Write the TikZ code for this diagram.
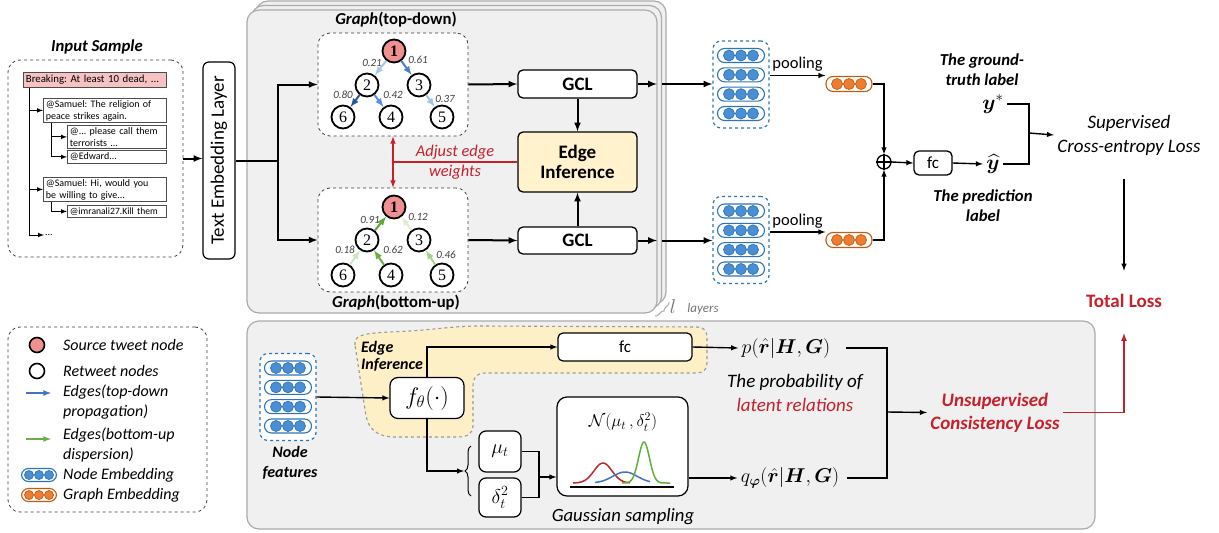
\RequirePackage{fix-cm}
\documentclass[tikz,border=0pt]{standalone}
\usepackage{amsmath}
\usepackage{bm}
\usepackage{fontspec}
\setmainfont{Carlito}
\newfontfamily\numfont{Liberation Serif}
\usepackage{xcolor}
\usetikzlibrary{calc,decorations.pathreplacing}
\definecolor{framegray}{HTML}{F0F0F0}
\definecolor{framedraw}{HTML}{ABABAB}
\definecolor{srcpink}{HTML}{F09090}
\definecolor{boxpink}{HTML}{F6C2C2}
\definecolor{embblue}{HTML}{4A8FD3}
\definecolor{embdraw}{HTML}{2E75B6}
\definecolor{graphorange}{HTML}{ED7D31}
\definecolor{orangedraw}{HTML}{C55A11}
\definecolor{lossred}{HTML}{C5202C}
\definecolor{infyellow}{HTML}{FFF2CC}
\definecolor{blobyellow}{HTML}{FDEFC6}
\definecolor{w21}{HTML}{A9C6EC}
\definecolor{w61}{HTML}{4F7FC6}
\definecolor{w80}{HTML}{2F5597}
\definecolor{w42}{HTML}{5B8FD8}
\definecolor{w37}{HTML}{A3C3EC}
\definecolor{w91}{HTML}{5AAA37}
\definecolor{w12}{HTML}{E0EED6}
\definecolor{w18}{HTML}{CFE6C0}
\definecolor{w62}{HTML}{6CAE45}
\definecolor{w46}{HTML}{A9D18E}
\definecolor{gaured}{HTML}{C0282D}
\definecolor{gaublue}{HTML}{4472C4}
\definecolor{gaugreen}{HTML}{5DB13B}
\tikzset{>=latex,
  frame/.style={draw=framedraw, fill=framegray, line width=1.2, rounded corners=12},
  dashbox/.style={draw=black!75, dashed, line width=0.8, rounded corners=12, fill=white, inner sep=0},
  embbox/.style={draw=embdraw, dashed, line width=1.2, rounded corners=8, fill=white,
    minimum width=56, minimum height=87, inner sep=0},
  capsule/.style={draw=embdraw, line width=1.1, rounded corners=7, minimum width=47,
    minimum height=14, inner sep=0, fill=white},
  dot/.style={circle, fill=embblue, draw=embdraw, line width=0.7, minimum size=11, inner sep=0},
  ocapsule/.style={capsule, draw=orangedraw},
  odot/.style={dot, fill=graphorange, draw=orangedraw},
  tweet/.style={draw=black!70, line width=0.8, fill=white, anchor=north west, align=left,
    inner xsep=2.5, inner ysep=1, font=\frenchspacing\fontsize{10}{12}\selectfont},
  tree/.style={->, line width=1},
  flow/.style={->, line width=2},
  thinflow/.style={->, line width=1.4},
  link/.style={line width=1.4},
  block/.style={draw, line width=1.3, rounded corners=5, fill=white, inner sep=0},
  gnode/.style={circle, draw, line width=1.8, fill=white, minimum size=23, inner sep=0,
    font=\numfont\fontsize{16}{16}\selectfont},
  srcnode/.style={gnode, fill=srcpink, font=\numfont\bfseries\fontsize{16}{16}\selectfont},
  tdedge/.style={->, line width=2},
  wlab/.style={font=\itshape\fontsize{11}{11}\selectfont, text=black!75, inner sep=0},
  legtxt/.style={anchor=west, align=left, font=\itshape\fontsize{16}{20}\selectfont, inner sep=0},
  ttl/.style={font=\bfseries\itshape\fontsize{16.7}{20}\selectfont, align=center, inner sep=0},
  adj/.style={draw=lossred, line width=1.5},
}

\begin{document}
\begin{tikzpicture}[x=1pt, y=-1pt]
  \useasboundingbox (0,0) rectangle (1219,533);

  % input sample
  \node[ttl] at (97,47) {Input Sample};
  \node[dashbox, minimum width=175, minimum height=197] (inbox) at (95.5,158.5) {};
  \node[tweet, fill=boxpink, text width=138, minimum height=15,
    font=\frenchspacing\fontsize{10.8}{12}\selectfont] (t0) at (23,72) {Breaking: At least 10 dead, ...};
  \node[tweet, text width=118, minimum height=24] (t1) at (43,98) {@Samuel: The religion of\\peace strikes again.};
  \node[tweet, text width=94, minimum height=23] (t2) at (67,125) {@... please call them\\terrorists ...};
  \node[tweet, text width=94, minimum height=13] (t3) at (67,150) {@Edward...};
  \node[tweet, text width=118, minimum height=24] (t4) at (43,177) {@Samuel: Hi, would you\\be willing to give...};
  \node[tweet, text width=94, minimum height=12, font=\frenchspacing\fontsize{9.6}{12}\selectfont] (t5) at (67,205) {@imranali27.Kill them};
  \node[anchor=west, inner sep=1, font=\fontsize{10}{12}\selectfont] (dots) at (44,235) {...};
  \draw[tree] ([xshift=6]t0.south west) |- (t1.west);
  \draw[tree] ([xshift=6]t0.south west) |- (t4.west);
  \draw[tree] ([xshift=6]t0.south west) |- (dots.west);
  \draw[tree] ([xshift=8]t1.south west) |- (t2.west);
  \draw[tree] ([xshift=8]t1.south west) |- (t3.west);
  \draw[tree] ([xshift=8]t4.south west) |- (t5.west);

  % rotated node: north is its left side, south its right side
  \node[draw, line width=1.2, rounded corners=6, rotate=90, minimum width=197, minimum height=32,
    fill=white, font=\fontsize{19}{22}\selectfont] (tel) at (219,160.5) {Text Embedding Layer};
  \draw[flow] (inbox.east) -- (inbox.east -| tel.north);

  % stacked layers
  \draw[frame] (256,1) rectangle (666,304);
  \draw[frame] (251.5,5.5) rectangle (661.5,308.5);
  \draw[frame] (247,10) rectangle (657,313);
  \draw[framedraw, line width=1, decorate, decoration={brace, amplitude=3}] (669,302) -- (655,316);
  \node[text=black!55, font=\fontsize{20}{20}\selectfont] at (673,307) {$l$};
  \node[text=black!55, font=\itshape\fontsize{13}{13}\selectfont] at (703,309) {layers};

  % graphs
  \node[ttl, font=\bfseries\fontsize{16.7}{20}\selectfont] at (396,20) {\textit{Graph}(top-down)};
  \node[ttl, font=\bfseries\fontsize{16.7}{20}\selectfont] at (396,303) {\textit{Graph}(bottom-up)};
  \node[dashbox, minimum width=150, minimum height=103] (gtd) at (393,84.5) {};
  \node[dashbox, minimum width=150, minimum height=104] (gbu) at (393,240) {};

  \node[srcnode] (a1) at (394,51) {1};
  \node[gnode] (a2) at (367,85) {2};
  \node[gnode] (a3) at (419,85) {3};
  \node[gnode] (a6) at (343,117) {6};
  \node[gnode] (a4) at (391,117) {4};
  \node[gnode] (a5) at (442,117) {5};
  \draw[tdedge, w21] (a1) -- (a2);
  \draw[tdedge, w61] (a1) -- (a3);
  \draw[tdedge, w80] (a2) -- (a6);
  \draw[tdedge, w42] (a2) -- (a4);
  \draw[tdedge, w37] (a3) -- (a5);
  \node[wlab] at (372,63) {0.21};
  \node[wlab] at (418,60) {0.61};
  \node[wlab] at (343,95) {0.80};
  \node[wlab] at (393,95) {0.42};
  \node[wlab] at (445,99) {0.37};

  \node[srcnode] (b1) at (394,207) {1};
  \node[gnode] (b2) at (367,240) {2};
  \node[gnode] (b3) at (419,240) {3};
  \node[gnode] (b6) at (343,275) {6};
  \node[gnode] (b4) at (391,275) {4};
  \node[gnode] (b5) at (442,275) {5};
  \draw[tdedge, w91] (b2) -- (b1);
  \draw[tdedge, w12] (b3) -- (b1);
  \draw[tdedge, w18] (b6) -- (b2);
  \draw[tdedge, w62] (b4) -- (b2);
  \draw[tdedge, w46] (b5) -- (b3);
  \node[wlab] at (370,220) {0.91};
  \node[wlab] at (418,217) {0.12};
  \node[wlab] at (345,250) {0.18};
  \node[wlab] at (393,250) {0.62};
  \node[wlab] at (446,255) {0.46};

  \draw[flow] (tel.south) -- ++(42,0) coordinate (split) |- (gtd.west);
  \draw[flow] (split) |- (gbu.west);

  % gcl and edge inference
  \node[block, minimum width=119, minimum height=28, font=\bfseries\fontsize{19}{22}\selectfont] (gcla) at (577.5,84) {GCL};
  \node[block, minimum width=119, minimum height=27, font=\bfseries\fontsize{19}{22}\selectfont] (gclb) at (577.5,240.5) {GCL};
  \node[block, fill=infyellow, minimum width=119, minimum height=60, align=center,
    font=\bfseries\fontsize{19}{20}\selectfont] (einf) at (577.5,162) {Edge\\Inference};
  \draw[flow] (gtd.east) -- (gcla.west);
  \draw[flow] (gbu.east) -- (gclb.west);
  \draw[flow] (gcla.south) -- (einf.north);
  \draw[flow] (gclb.north) -- (einf.south);
  \draw[adj] (einf.west) -- (einf.west -| gtd.south);
  \draw[adj, <->] (gtd.south) -- (gbu.north);
  \node[text=lossred, align=center, font=\itshape\fontsize{16.4}{20}\selectfont] at (455,162) {Adjust edge\\weights};

  \coordinate (fr1) at (657,84);
  \coordinate (fr2) at (657,240.5);
  \coordinate (ly1) at (662,84);
  \coordinate (ly2) at (662,240.5);
  \draw[flow] (gcla.east) -- (fr1);
  \draw[flow] (gclb.east) -- (fr2);

  % embeddings
  \foreach \cx/\cy/\nm in {741/84.5/ne1, 741/240/ne2} {
    \node[embbox] (\nm) at (\cx,\cy) {};
    \foreach \dy in {-29,-9.67,9.67,29} {
      \node[capsule] at (\cx,{\cy+\dy}) {};
      \foreach \dx in {-12,0,12}
        \node[dot] at ({\cx+\dx},{\cy+\dy}) {};
    }
  }
  \foreach \cy/\nm in {84/ge1, 240/ge2} {
    \node[ocapsule, minimum width=46, minimum height=15] (\nm) at (849,\cy) {};
    \foreach \dx in {-12,0,12}
      \node[odot] at ({849+\dx},\cy) {};
  }
  \draw[flow] (ly1) -- (ly1 -| ne1.west);
  \draw[flow] (ly2) -- (ly2 -| ne2.west);
  \coordinate (pl1) at ([yshift=9]ne1.east);
  \coordinate (pl2) at ([yshift=8]ne2.east);
  \draw[thinflow] (pl1) -- (pl1 -| ge1.west) node[midway, above=0, font=\fontsize{16.5}{18}\selectfont] {pooling};
  \draw[thinflow] (pl2) -- (pl2 -| ge2.west) node[midway, above=0, font=\fontsize{16.5}{18}\selectfont] {pooling};

  % supervised branch
  \node[circle, draw, line width=1.3, minimum size=14, inner sep=0] (plus) at (884,162) {};
  \draw[line width=1.3] (plus.north) -- (plus.south) (plus.west) -- (plus.east);
  \draw[thinflow] (ge1.east) -| (plus.north);
  \draw[thinflow] (ge2.east) -| (plus.south);
  \node[block, minimum width=38, minimum height=24, font=\fontsize{17}{20}\selectfont] (fcs) at (933,163) {fc};
  \draw[thinflow] (plus.east) -- (fcs.west);
  \node[font=\fontsize{21}{24}\selectfont] (yhat) at (993,164) {$\widehat{\bm{y}}$};
  \node[font=\fontsize{21}{24}\selectfont] (ystar) at (993,104) {$\bm{y}^{*}$};
  \draw[thinflow] (fcs.east) -- (yhat.west);
  \node[ttl] at (982,70) {The ground-\\truth label};
  \node[ttl] at (983,206) {The prediction\\label};
  \coordinate (jn) at (1029,133);
  \draw[link] (ystar.east) -| (jn);
  \draw[link] (yhat.east) -| (jn);
  \node[align=center, font=\itshape\fontsize{19}{24}\selectfont] (sup) at (1129,135) {Supervised\\Cross-entropy Loss};
  \draw[thinflow] (jn) -- (sup.west);
  \node[text=lossred, font=\bfseries\fontsize{19}{22}\selectfont] (total) at (1124,301) {Total Loss};
  \coordinate (sdown) at (1124,179);
  \draw[thinflow] (sdown) -- ([yshift=20]total.north);

  % legend
  \node[dashbox, minimum width=199, minimum height=185] (leg) at (107.5,419.5) {};
  \node[srcnode, minimum size=15, line width=1.6] (lsrc) at (37,345) {};
  \node[gnode, minimum size=15, line width=1.6] (lret) at (37,371) {};
  \coordinate (lb1) at (26,393);
  \coordinate (lb2) at (51,393);
  \coordinate (lg1) at (26,439);
  \coordinate (lg2) at (51,439);
  \draw[tdedge, gaublue, line width=1.6] (lb1) -- (lb2);
  \draw[tdedge, w62, line width=1.6] (lg1) -- (lg2);
  \node[capsule, minimum width=35, minimum height=13] (lne) at (39,475) {};
  \node[ocapsule, minimum width=35, minimum height=13] (lge) at (39,495) {};
  \foreach \dx in {-10,0,10} {
    \node[dot, minimum size=9] at ({39+\dx},475) {};
    \node[odot, minimum size=9] at ({39+\dx},495) {};
  }
  \node[legtxt] at (63,345) {Source tweet node};
  \node[legtxt] at (63,371) {Retweet nodes};
  \node[legtxt] at (63,402) {Edges(top-down\\propagation)};
  \node[legtxt] at (63,445) {Edges(bottom-up\\dispersion)};
  \node[legtxt] at (63,475) {Node Embedding};
  \node[legtxt] at (63,495) {Graph Embedding};

  % unsupervised branch
  \draw[frame] (247,321) rectangle (1095,529);
  \draw[draw=black!40, dashed, line width=1.1, fill=blobyellow]
    (355,345) .. controls (352,332) and (375,333) .. (410,331)
    .. controls (440,329) and (455,326) .. (480,326) -- (697,327)
    .. controls (704,327) and (707,331) .. (707,338) -- (707,363)
    .. controls (707,370) and (703,373) .. (696,373) -- (485,373)
    .. controls (477,373) and (473,377) .. (473,386) -- (473,426)
    .. controls (473,433) and (468,437) .. (458,437) -- (395,437)
    .. controls (378,437) and (369,430) .. (366,416) -- cycle;
  \node[anchor=north west, align=left, inner sep=0, font=\bfseries\itshape\fontsize{16}{17}\selectfont] at (361,341) {Edge\\Inference};
  \foreach \cx/\cy/\nm in {288/397/nf} {
    \node[embbox] (\nm) at (\cx,\cy) {};
    \foreach \dy in {-29,-9.67,9.67,29} {
      \node[capsule] at (\cx,{\cy+\dy}) {};
      \foreach \dx in {-12,0,12}
        \node[dot] at ({\cx+\dx},{\cy+\dy}) {};
    }
  }
  \node[ttl, font=\bfseries\itshape\fontsize{16}{20}\selectfont] at (290,463) {Node\\features};
  \node[block, rounded corners=8, line width=1.2, minimum width=74, minimum height=41,
    font=\fontsize{24}{26}\selectfont] (fth) at (427,398) {$f_{\theta}(\cdot)$};
  \draw[thinflow] (nf.east) -- (fth.west);
  \node[block, line width=1.2, minimum width=134, minimum height=28, font=\fontsize{17}{20}\selectfont] (fcl) at (625,347) {fc};
  \draw[thinflow] (fth.north) |- (fcl.west);
  \node[font=\fontsize{20}{24}\selectfont] (pnode) at (786,348) {$p(\hat{\bm{r}}|\bm{H},\bm{G})$};
  \draw[thinflow] (fcl.east) -- (pnode.west);
  \node[align=center, font=\itshape\fontsize{19}{24}\selectfont] (prob) at (795,393) {The probability of\\\textcolor{lossred}{latent relations}};

  \coordinate (brtip) at (464,471);
  \draw[line width=1, decorate, decoration={brace, amplitude=6}] (471,496) -- (471,446);
  \draw[thinflow] (fth.south) |- (brtip);
  \node[block, rounded corners=7, line width=1.2, minimum width=42, minimum height=41,
    font=\fontsize{20}{24}\selectfont] (mu) at (500,451.5) {$\mu_t$};
  \node[block, rounded corners=7, line width=1.2, minimum width=42, minimum height=39,
    font=\fontsize{20}{24}\selectfont] (del) at (500,497.5) {$\delta_t^2$};
  \node[block, rounded corners=10, line width=1.2, minimum width=131, minimum height=99] (gau) at (622.5,446.5) {};
  \node[font=\fontsize{17}{20}\selectfont] at (623,422) {$\mathcal{N}(\mu_t\,,\delta_t^2)$};
  \draw[gaured, line width=1.5] plot[smooth, domain=573:630, samples=40] (\x,{483-20*exp(-((\x-603)^2)/162)});
  \draw[gaublue, line width=1.5] plot[smooth, domain=595:650, samples=40] (\x,{483-11*exp(-((\x-625)^2)/300)});
  \draw[gaugreen, line width=1.5] plot[smooth, domain=622:670, samples=50] (\x,{483-41*exp(-((\x-644)^2)/60)});
  \draw[line width=1.2] (570,487) -- (674,487);
  \coordinate (gin) at (539,477);
  \draw[link] (mu.east) -| (gin);
  \draw[link] (del.east) -| (gin);
  \draw[thinflow] (gin) -- (gin -| gau.west);
  \node[font=\itshape\fontsize{18.7}{22}\selectfont] (gs) at (623,517) {Gaussian sampling};
  \node[font=\fontsize{20}{24}\selectfont] (qnode) at (790,478) {$q_{\bm{\varphi}}(\hat{\bm{r}}|\bm{H},\bm{G})$};
  \draw[thinflow] (gau.east |- qnode) -- (qnode.west);

  \coordinate (jn2) at (887,412);
  \draw[link] (pnode.east) ++(12,0) -| (jn2);
  \draw[link] (qnode.east) ++(4,0) -| (jn2);
  \node[text=lossred, align=center, font=\bfseries\itshape\fontsize{19}{23}\selectfont] (ucl) at (995,412.5) {Unsupervised\\Consistency Loss};
  \draw[thinflow] (jn2) -- (ucl.west);
  \draw[->, lossred, line width=1.6] (ucl.east) -| ([yshift=-22]total.south);
\end{tikzpicture}
\end{document}
